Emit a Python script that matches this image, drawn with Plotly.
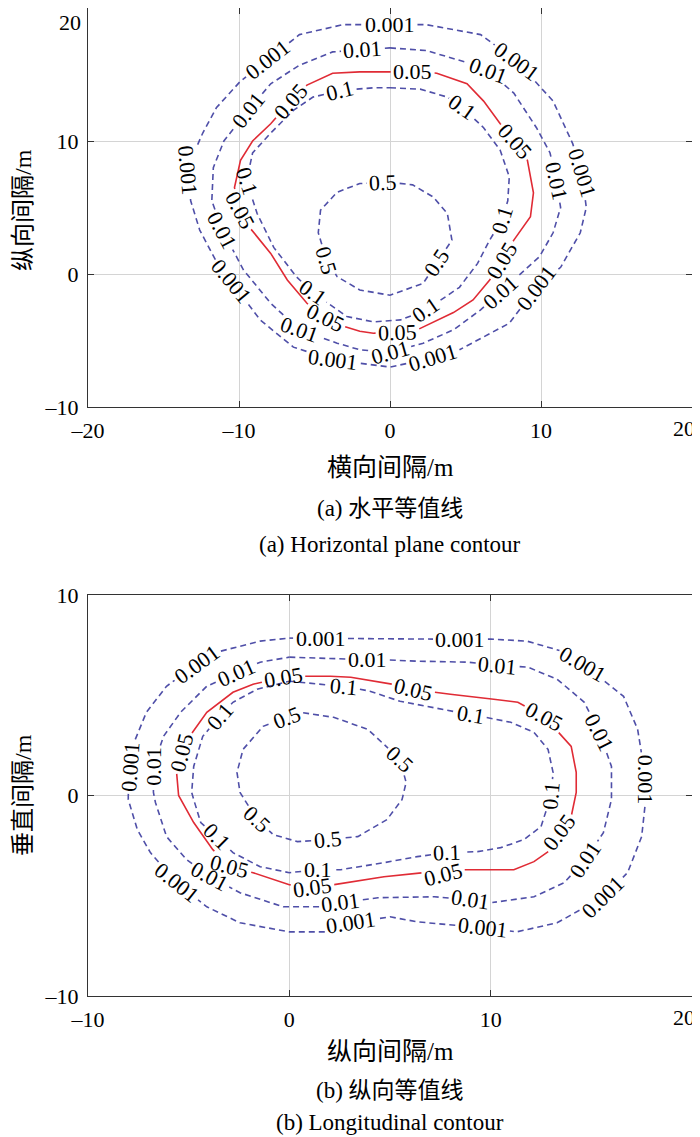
import math
import plotly.graph_objects as go

# ---------------- data ----------------
level_text = ["0.001", "0.01", "0.05", "0.1", "0.5"]

# tick definitions
top_xticks = [-20, -10, 0, 10, 20]
top_xticktext = ["\u201320", "\u201310", "0", "10", "20"]
top_yticks = [-10, 0, 10, 20]
top_yticktext = ["\u201310", "0", "10", "20"]
bot_xticks = [-10, 0, 10, 20]
bot_xticktext = ["\u201310", "0", "10", "20"]
bot_yticks = [-10, 0, 10]
bot_yticktext = ["\u201310", "0", "10"]

# ---- (a) horizontal plane contour lines ----
top_c0001_x = [0, 2.4, 6, 8.4, 10.8, 12.1, 12.7, 13, 12.6, 11.3, 9.7, 7.9, 4.6, 2.85, 0, -3.8, -6.4, -8.6, -10.5, -11.3, -12.6, -13.2, -13.4, -12.4, -11.5, -9.9, -8.1, -6, -3.1, 0]
top_c0001_y = [18.75, 18.75, 18, 16, 13, 9.8, 7.6, 5, 3.1, 0.5, -1, -3.7, -5.7, -6.3, -7.0, -6.45, -5.5, -3.45, -0.6, 0.5, 3.3, 5.5, 8, 10.6, 12.5, 14.5, 16.1, 18, 18.75, 18.75]

top_c001_x = [0, 2.4, 5.1, 6.5, 8.2, 9.7, 10.6, 11, 11.3, 10.8, 9.9, 7.3, 6, 4.2, 2.2, 0, -2, -3.5, -6, -7.9, -9.7, -11.1, -11.8, -11.7, -11, -9.4, -7.9, -6, -3.8, 0]
top_c001_y = [17.0, 16.8, 15.9, 15.3, 13.6, 11, 9.1, 7, 5, 3.1, 1.3, -1.37, -2.7, -4.2, -5.2, -5.9, -5.7, -5.2, -4.2, -2.2, 0.3, 3.3, 5.5, 8, 10, 12.3, 14.3, 15.7, 16.7, 17.0]

top_c005_x = [0, 1.5, 3.1, 5.1, 6.2, 7.3, 8.3, 9.1, 9.5, 9.3, 8.2, 7.4, 6.6, 5.5, 4.2, 1.8, 0.5, -1.1, -2.0, -3.3, -4.3, -5.5, -6.8, -7.9, -9.3, -9.9, -10.3, -9.9, -9.1, -7.9, -6.6, -5.5, -3.8, -2, 0]
top_c005_y = [15.2, 15.2, 15.1, 14.3, 13, 11.3, 10, 8.55, 6.1, 4.3, 2.55, 1.05, -0.45, -1.95, -2.9, -4.2, -4.4, -4.45, -4.3, -3.85, -3.3, -2.2, -0.45, 1.55, 3.5, 4.8, 6.5, 8.55, 10, 11.3, 13, 14.2, 15.1, 15.2, 15.2]

top_c01_x = [0, 2, 3.8, 4.8, 6.2, 7.3, 7.9, 7.8, 7.4, 6.6, 5.8, 4.6, 2.4, 0.7, -1.1, -2.85, -5.1, -6.2, -7.7, -8.8, -9.5, -9.1, -7.9, -6.4, -5.1, -3.3, -1.1, 0]
top_c01_y = [14.0, 13.9, 13.3, 12.5, 11, 9.3, 7.3, 5.5, 4.05, 2.55, 0.8, -1, -2.7, -3.45, -3.6, -3.2, -1.4, -0.2, 2, 4.55, 7, 9.1, 10.6, 12.3, 13.3, 13.8, 14.0, 14.0]

top_c05_x = [0, 1.5, 2.85, 3.8, 4.1, 3.1, 2.2, 0, -2, -3.5, -4.2, -4.75, -4.6, -3.5, -2, 0]
top_c05_y = [6.9, 6.7, 5.8, 4.55, 2.55, 0.84, -0.7, -1.6, -1.2, -0.2, 1.05, 3.1, 4.8, 6.15, 6.8, 6.9]

# label positions (a)
top_lab0001_x = [0, -8.1, -13.3, -10.5, -3.8, 2.85, 9.7, 12.7, 8.4]
top_lab0001_y = [18.75, 16.1, 7.8, -0.6, -6.45, -6.3, -1.0, 7.6, 16.0]
top_lab001_x = [-1.8, 6.5, 11.0, 7.3, 0, -6.0, -11.1, -9.4]
top_lab001_y = [17.0, 15.3, 7.0, -1.37, -5.9, -4.2, 3.3, 12.3]
top_lab005_x = [1.5, 8.3, 7.4, 0.5, -4.3, -9.9, -6.6]
top_lab005_y = [15.2, 10.0, 1.05, -4.4, -3.3, 4.8, 13.0]
top_lab01_x = [-3.3, 4.8, 7.4, 2.4, -5.1, -9.5]
top_lab01_y = [13.8, 12.5, 4.05, -2.7, -1.4, 7.0]
top_lab05_x = [-0.45, 3.1, -4.2]
top_lab05_y = [6.9, 0.84, 1.05]

# ---- (b) longitudinal contour lines ----
bot_c0001_x = [0, 1.55, 5, 8.5, 10, 11.8, 13.3, 14.6, 16.6, 17.3, 17.7, 17.7, 17.5, 16.8, 15.6, 13.3, 11.3, 9.6, 6.35, 5, 3.05, 2.2, 0, -2.45, -4.1, -5.6, -6.9, -7.55, -8, -8, -7.9, -7.65, -7.1, -6.1, -4.6, -3.6, -1.45, 0]
bot_c0001_y = [7.85, 7.85, 7.8, 7.8, 7.8, 7.7, 7.3, 6.55, 4.95, 3.3, 0.8, -0.2, -2.05, -3.85, -5.05, -6.35, -6.8, -6.6, -6.3, -6.05, -6.35, -6.8, -6.8, -6.35, -5.55, -4.35, -2.85, -1.7, -0.2, 0, 1.45, 2.8, 4.15, 5.45, 6.55, 7.15, 7.7, 7.85]

bot_c001_x = [0, 3.05, 3.9, 6.35, 8.85, 10.35, 11.85, 13.3, 14.65, 15.4, 16, 16, 15.6, 14.7, 13.65, 12.15, 10, 9, 7.2, 4.4, 2.55, 1.55, -0.3, -2.45, -3.95, -5.1, -6.1, -6.65, -6.75, -6.75, -6.25, -5.4, -4.1, -2.6, -1.45, 0]
bot_c001_y = [6.9, 6.8, 6.8, 6.7, 6.65, 6.5, 6.4, 5.8, 4.65, 3.15, 1.45, -0.2, -1.85, -3.2, -4.35, -5.05, -5.35, -5.2, -5.05, -5.1, -5.35, -5.55, -5.55, -4.85, -4.05, -3.2, -2.05, -0.35, 0.15, 1.45, 2.95, 4.15, 5.45, 6.13, 6.65, 6.9]

bot_c005_x = [0, 2.05, 3.05, 4.7, 6.15, 8, 10.15, 11.35, 12.65, 14, 14.25, 14.25, 14, 13.4, 13, 12.15, 11.15, 8.65, 7.65, 6.65, 4.7, 2.2, 1.15, 0, -1.8, -2.95, -3.8, -4.75, -5.4, -5.5, -5.6, -5.35, -4.95, -4.1, -2.8, -1.8, -0.3, 0]
bot_c005_y = [5.95, 5.95, 5.9, 5.65, 5.3, 5.05, 4.8, 4.65, 3.95, 2.45, 1.15, 0.15, -1.05, -1.85, -2.7, -3.3, -3.7, -3.7, -3.95, -3.85, -4.05, -4.45, -4.6, -4.45, -3.85, -3.55, -2.7, -1.35, -0.2, 0, 1.15, 2.15, 2.95, 4.15, 5.15, 5.55, 5.9, 5.95]

bot_c01_x = [0, 3.05, 4, 5.5, 7.5, 9, 11, 12.15, 12.85, 13.1, 13, 12.5, 11.65, 10.5, 9.35, 7.85, 6.35, 4.7, 2.55, 1.4, 0, -1.45, -2.8, -3.6, -4.4, -4.75, -4.85, -4.75, -4.3, -3.45, -2.8, -1.6, 0]
bot_c01_y = [5.7, 5.4, 5.2, 4.7, 4.3, 4.05, 3.65, 3.15, 2.3, 1.15, 0, -1.55, -2.2, -2.6, -2.8, -2.85, -3.05, -3.35, -3.7, -3.7, -3.85, -3.55, -2.85, -2.05, -1.35, -0.2, 0.15, 1.45, 2.95, 3.95, 4.65, 5.3, 5.7]

bot_c05_x = [0.55, 2.2, 3.9, 5.5, 5.8, 5.6, 4.85, 3.4, 1.9, 0.4, -0.8, -1.6, -2.45, -2.6, -2.3, -1.3, -0.1, 0.55]
bot_c05_y = [4.15, 3.9, 3.3, 1.8, 0.65, -0.2, -1.2, -2.05, -2.2, -2.3, -1.95, -1.2, 0.15, 1.15, 2.3, 3.45, 3.9, 4.15]

# label positions (b)
bot_lab0001_x = [1.55, 8.5, 14.6, 17.7, 15.6, 9.6, 3.05, -5.6, -7.9, -4.6]
bot_lab0001_y = [7.85, 7.8, 6.55, 0.8, -5.05, -6.6, -6.35, -4.35, 1.45, 6.55]
bot_lab001_x = [3.9, 10.35, 15.4, 14.7, 9.0, 2.55, -3.95, -6.75, -2.6]
bot_lab001_y = [6.8, 6.5, 3.15, -3.2, -5.2, -5.35, -4.05, 1.45, 6.13]
bot_lab005_x = [-0.3, 6.15, 12.65, 13.4, 7.65, 1.15, -2.95, -5.35]
bot_lab005_y = [5.9, 5.3, 3.95, -1.85, -3.95, -4.6, -3.55, 2.15]
bot_lab01_x = [-3.45, 2.7, 9.0, 13.0, 7.85, 1.4, -3.6]
bot_lab01_y = [3.95, 5.45, 4.05, 0.0, -2.85, -3.7, -2.05]
bot_lab05_x = [-0.1, 5.5, 1.9, -1.6]
bot_lab05_y = [3.9, 1.8, -2.2, -1.2]

# ---------------- layout constants ----------------
PAGE_W, PAGE_H = 700, 1137
OFF = 8                      # default body margin of the html page
W, H = PAGE_W - OFF, PAGE_H - OFF
# panel boxes in page pixels: left, right, top, bottom
TOP_PX = (88, 692, 8, 407)
BOT_PX = (88, 692, 595, 996)
TOP_RANGE = ([-20, 20], [-10, 20])
BOT_RANGE = ([-10, 20], [-10, 10])

BLUE = "#4f4fa8"
RED = "#e02b35"
LAB_FONT = 22
TICK_FONT = 22
SERIF = "Liberation Serif, Times New Roman, serif"
CJK = "Liberation Serif, Noto Sans CJK SC, serif"


def fx(p):  # page px -> paper x
    return min(1.0, max(0.0, (p - OFF) / W))


def fy(p):  # page px -> paper y
    return min(1.0, max(0.0, 1 - (p - OFF) / H))


def scales(px, rng):
    sx = (px[1] - px[0]) / (rng[0][1] - rng[0][0])
    sy = (px[3] - px[2]) / (rng[1][1] - rng[1][0])
    return sx, sy


def label_radius(text):
    nd = sum(c.isdigit() for c in text)
    return 0.5 * LAB_FONT * (0.5 * nd + 0.27 * text.count(".")) + 2.5


def snap(lx, ly, xs, ys, sx, sy):
    best = None
    for i in range(len(xs) - 1):
        ax, ay = xs[i] * sx, ys[i] * sy
        bx, by = xs[i + 1] * sx, ys[i + 1] * sy
        dx, dy = bx - ax, by - ay
        a = dx * dx + dy * dy
        if a == 0:
            continue
        t = ((lx * sx - ax) * dx + (ly * sy - ay) * dy) / a
        t = max(0.0, min(1.0, t))
        qx, qy = ax + t * dx, ay + t * dy
        d = (qx - lx * sx) ** 2 + (qy - ly * sy) ** 2
        if best is None or d < best[0]:
            best = (d, qx / sx, qy / sy, dx, dy)
    _, qx, qy, dx, dy = best
    ang = math.degrees(math.atan2(-dy, dx))
    if ang > 90:
        ang -= 180
    if ang < -90:
        ang += 180
    return qx, qy, ang


def clip(xs, ys, centers, radii, sx, sy):
    X = [x * sx for x in xs]
    Y = [y * sy for y in ys]
    C = [(cx * sx, cy * sy, r) for (cx, cy), r in zip(centers, radii)]
    ox, oy = [], []
    pen = False
    for i in range(len(X) - 1):
        px, py = X[i], Y[i]
        dx, dy = X[i + 1] - px, Y[i + 1] - py
        a = dx * dx + dy * dy
        iv = []
        if a > 0:
            for cx, cy, r in C:
                gx, gy = px - cx, py - cy
                b = 2 * (gx * dx + gy * dy)
                c = gx * gx + gy * gy - r * r
                disc = b * b - 4 * a * c
                if disc <= 0:
                    continue
                s = math.sqrt(disc)
                lo = max((-b - s) / (2 * a), 0.0)
                hi = min((-b + s) / (2 * a), 1.0)
                if lo < hi:
                    iv.append((lo, hi))
        iv.sort()
        vis = []
        cur = 0.0
        for lo, hi in iv:
            if lo > cur:
                vis.append((cur, lo))
            cur = max(cur, hi)
        if cur < 1.0:
            vis.append((cur, 1.0))
        if not vis:
            pen = False
        for t0, t1 in vis:
            if not (t0 == 0.0 and pen):
                if ox:
                    ox.append(None)
                    oy.append(None)
                ox.append((px + t0 * dx) / sx)
                oy.append((py + t0 * dy) / sy)
            ox.append((px + t1 * dx) / sx)
            oy.append((py + t1 * dy) / sy)
            pen = (t1 == 1.0)
    return ox, oy


fig = go.Figure()
annotations = []

panels = [
    ("x", "y", TOP_PX, TOP_RANGE,
     [(top_c0001_x, top_c0001_y, top_lab0001_x, top_lab0001_y),
      (top_c001_x, top_c001_y, top_lab001_x, top_lab001_y),
      (top_c005_x, top_c005_y, top_lab005_x, top_lab005_y),
      (top_c01_x, top_c01_y, top_lab01_x, top_lab01_y),
      (top_c05_x, top_c05_y, top_lab05_x, top_lab05_y)]),
    ("x2", "y2", BOT_PX, BOT_RANGE,
     [(bot_c0001_x, bot_c0001_y, bot_lab0001_x, bot_lab0001_y),
      (bot_c001_x, bot_c001_y, bot_lab001_x, bot_lab001_y),
      (bot_c005_x, bot_c005_y, bot_lab005_x, bot_lab005_y),
      (bot_c01_x, bot_c01_y, bot_lab01_x, bot_lab01_y),
      (bot_c05_x, bot_c05_y, bot_lab05_x, bot_lab05_y)]),
]

for xref, yref, px, rng, sets in panels:
    sx, sy = scales(px, rng)
    for k, (cx, cy, lx, ly) in enumerate(sets):
        text = level_text[k]
        r = label_radius(text)
        snapped = [snap(a, b, cx, cy, sx, sy) for a, b in zip(lx, ly)]
        centers = [(s[0], s[1]) for s in snapped]
        xs, ys = clip(cx, cy, centers, [r] * len(centers), sx, sy)
        is_red = text == "0.05"
        fig.add_trace(go.Scatter(
            x=xs, y=ys, mode="lines", xaxis=xref, yaxis=yref,
            line=dict(color=RED if is_red else BLUE, width=1.6,
                      dash="solid" if is_red else "6px,4px"),
            hoverinfo="skip", showlegend=False, connectgaps=False))
        for qx, qy, ang in snapped:
            annotations.append(dict(
                x=qx, y=qy, xref=xref, yref=yref, text=text, showarrow=False,
                textangle=ang, xanchor="center", yanchor="middle",
                font=dict(family=SERIF, size=LAB_FONT, color="black")))


def axis_common(ticks, ticktext, rng):
    return dict(range=rng, tickvals=ticks, ticktext=ticktext, showgrid=True,
                gridcolor="#d4d4d4", gridwidth=1, zeroline=False, showline=True,
                linecolor="#333333", linewidth=1.2, mirror="ticks", ticks="inside",
                ticklen=6, tickwidth=1, tickcolor="#333333", automargin=False,
                tickfont=dict(family=SERIF, size=TICK_FONT, color="black"))


# labels sitting at the page edge are drawn as annotations so they stay inside the page
top_x_plot_text = top_xticktext[:-1] + [""]
top_y_plot_text = top_yticktext[:-1] + [""]
bot_x_plot_text = bot_xticktext[:-1] + [""]

xa = axis_common(top_xticks, top_x_plot_text, TOP_RANGE[0])
xa.update(domain=[fx(TOP_PX[0]), fx(TOP_PX[1])], anchor="y", ticklabelstandoff=3)
ya = axis_common(top_yticks, top_y_plot_text, TOP_RANGE[1])
ya.update(domain=[fy(TOP_PX[3]), fy(TOP_PX[2])], anchor="x", ticklabelstandoff=4)
xb = axis_common(bot_xticks, bot_x_plot_text, BOT_RANGE[0])
xb.update(domain=[fx(BOT_PX[0]), fx(BOT_PX[1])], anchor="y2", ticklabelstandoff=3)
yb = axis_common(bot_yticks, bot_yticktext, BOT_RANGE[1])
yb.update(domain=[fy(BOT_PX[3]), fy(BOT_PX[2])], anchor="x2", ticklabelstandoff=4)

# edge tick labels
annotations.append(dict(text=top_xticktext[-1], x=fx(684), y=fy(TOP_PX[3] + 7), xref="paper",
                        yref="paper", showarrow=False, xanchor="center", yanchor="top",
                        font=dict(family=SERIF, size=TICK_FONT, color="black")))
annotations.append(dict(text=bot_xticktext[-1], x=fx(684), y=fy(BOT_PX[3] + 7), xref="paper",
                        yref="paper", showarrow=False, xanchor="center", yanchor="top",
                        font=dict(family=SERIF, size=TICK_FONT, color="black")))
annotations.append(dict(text=top_yticktext[-1], x=fx(TOP_PX[0] - 5), y=1.0, xref="paper",
                        yref="paper", showarrow=False, xanchor="right", yanchor="top",
                        font=dict(family=SERIF, size=TICK_FONT, color="black")))

texts = [
    ("横向间隔/m", 390, 467, 0, 25, CJK),
    ("(a) 水平等值线", 390, 509, 0, 23, CJK),
    ("(a) Horizontal plane contour", 390, 544, 0, 23, SERIF),
    ("纵向间隔/m", 23, 210, -90, 24, CJK),
    ("纵向间隔/m", 390, 1051, 0, 25, CJK),
    ("(b) 纵向等值线", 390, 1090, 0, 23, CJK),
    ("(b) Longitudinal contour", 390, 1122, 0, 23, SERIF),
    ("垂直间隔/m", 23, 795, -90, 24, CJK),
]
for t, x, y, ang, size, fam in texts:
    annotations.append(dict(text=t, x=fx(x), y=fy(y), xref="paper", yref="paper",
                            showarrow=False, textangle=ang, xanchor="center",
                            yanchor="middle", font=dict(family=fam, size=size, color="black")))

fig.update_layout(
    width=W, height=H, margin=dict(l=0, r=0, t=0, b=0, autoexpand=False),
    paper_bgcolor="white", plot_bgcolor="white",
    xaxis=xa, yaxis=ya, xaxis2=xb, yaxis2=yb,
    annotations=annotations, showlegend=False,
)

fig.write_html("out.html")
